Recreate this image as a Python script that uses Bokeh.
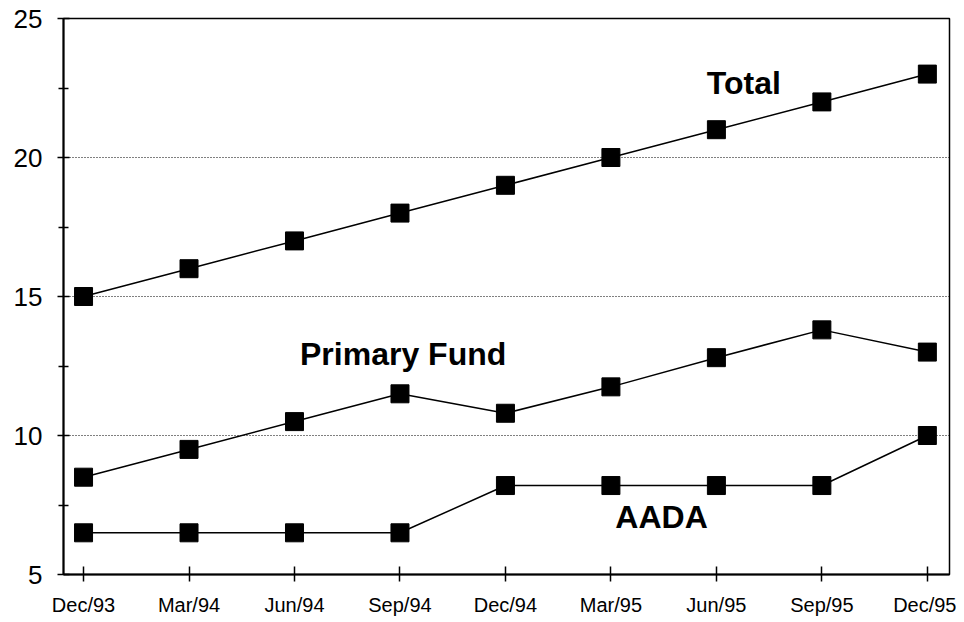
from bokeh.plotting import figure
from bokeh.models import Range1d, FixedTicker, ColumnDataSource
from bokeh.core.properties import value
from bokeh.embed import file_html
from bokeh.resources import INLINE

dates = ["Dec/93", "Mar/94", "Jun/94", "Sep/94", "Dec/94", "Mar/95", "Jun/95", "Sep/95", "Dec/95"]
total = [15, 16, 17, 18, 19, 20, 21, 22, 23]
primary_fund = [8.5, 9.5, 10.5, 11.5, 10.8, 11.75, 12.8, 13.8, 13.0]
aada = [6.5, 6.5, 6.5, 6.5, 8.2, 8.2, 8.2, 8.2, 10.0]
y_ticks = [5, 10, 15, 20, 25]
y_minor = [7.5, 12.5, 17.5, 22.5]

series_labels = ["Total", "Primary Fund", "AADA"]
label_x = [6.26, 3.03, 5.48]
label_y = [22.67, 12.92, 7.08]

xs = list(range(len(dates)))

p = figure(width=956, height=618, output_backend="svg", toolbar_location=None,
           x_range=Range1d(-0.19, 8.21), y_range=Range1d(5, 25),
           min_border_left=63, min_border_right=7, min_border_top=18, min_border_bottom=42)

p.background_fill_color = "white"
p.border_fill_color = "white"
p.outline_line_color = "black"
p.outline_line_width = 1.5
p.outline_line_alpha = 1

# axes
p.xaxis.ticker = FixedTicker(ticks=xs)
p.xaxis.major_label_overrides = {i: d for i, d in enumerate(dates)}
p.yaxis.ticker = FixedTicker(ticks=y_ticks, minor_ticks=y_minor)
for ax in (p.xaxis[0], p.yaxis[0]):
    ax.axis_line_color = "black"
    ax.axis_line_width = 2
    ax.major_tick_line_color = "black"
    ax.major_tick_line_width = 1.5
    ax.minor_tick_line_color = "black"
    ax.minor_tick_line_width = 1.5
    ax.major_label_text_color = "black"
    ax.major_label_text_font = "Liberation Sans"
p.xaxis.major_tick_in = 8
p.xaxis.major_tick_out = 7
p.xaxis.minor_tick_in = 0
p.xaxis.minor_tick_out = 0
p.xaxis.major_label_text_font_size = "20px"
p.xaxis.major_label_standoff = 12
p.yaxis.major_tick_in = 6
p.yaxis.major_tick_out = 6
p.yaxis.minor_tick_in = 5
p.yaxis.minor_tick_out = 5
p.yaxis.major_label_text_font_size = "26px"
p.yaxis.major_label_standoff = 15

p.xgrid.visible = False
p.ygrid.ticker = FixedTicker(ticks=y_ticks)
p.ygrid.grid_line_color = "black"
p.ygrid.grid_line_width = 1
p.ygrid.grid_line_dash = "1 2"

for ys in (total, primary_fund, aada):
    src = ColumnDataSource(dict(x=xs, y=ys))
    p.line("x", "y", source=src, line_color="black", line_width=1.5)
    p.scatter("x", "y", source=src, marker="square", size=18,
              fill_color="black", line_color="black")

lsrc = ColumnDataSource(dict(x=label_x, y=label_y, t=series_labels))
p.text("x", "y", text="t", source=lsrc, text_font=value("Liberation Sans"),
       text_font_style="bold", text_font_size="32px", text_align="center",
       text_baseline="alphabetic", text_color="black")

open("out.html", "w").write(file_html(p, INLINE))
